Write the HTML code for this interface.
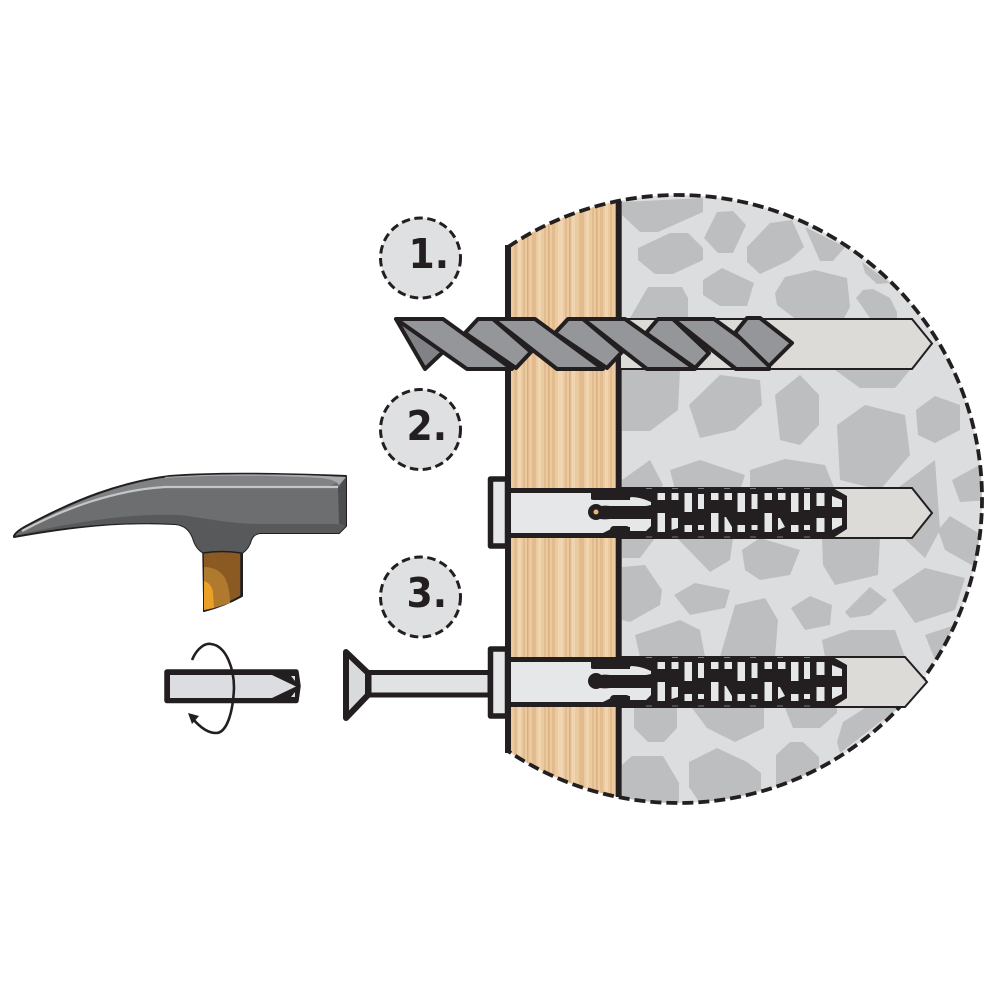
<!DOCTYPE html>
<html><head><meta charset="utf-8"><style>
html,body{margin:0;padding:0;background:#fff}
svg{display:block}
text{font-family:"DejaVu Sans","Liberation Sans",sans-serif;font-weight:bold;font-size:41px;fill:#231f20}
</style></head><body>
<svg width="1000" height="1000" viewBox="0 0 1000 1000" xmlns="http://www.w3.org/2000/svg">
<defs>
<clipPath id="disc"><path d="M508 247A304 304 0 1 1 508 751Z"/></clipPath>
<g id="dowel">
<path d="M590 488H833L847 496V529L833 538H590Z" fill="#231f20"/>
<rect x="511" y="488" width="90" height="50" fill="#231f20"/>
<path d="M511 493H591V499Q591 500 595 500H630V497Q640 497 651 502V505L646 506H610Q596 504 590 513Q596 521 610 519H651V526L646 531H630V527H615L603 533H511Z" fill="#e6e7e9"/>
<rect x="590" y="507" width="64" height="10" fill="#231f20"/>
<circle cx="596" cy="512" r="8" fill="#231f20"/>
<rect x="592" y="489" width="40" height="10" rx="5" fill="#231f20"/>
<rect x="610" y="526" width="20" height="9" rx="4" fill="#231f20"/>
<g fill="#e6e7e9">
<rect x="657.500" y="493" width="7.500" height="7"/><rect x="671.500" y="493" width="7" height="7"/>
<rect x="684.500" y="493" width="7.500" height="19"/><rect x="698" y="494" width="6" height="15"/>
<rect x="711" y="493" width="7.500" height="7"/><rect x="724.500" y="493" width="7.500" height="7"/>
<rect x="737.500" y="493" width="7.500" height="19"/><rect x="751.500" y="494" width="6" height="15"/>
<rect x="764.500" y="493" width="7.500" height="7"/><rect x="778" y="493" width="7.500" height="7"/>
<rect x="791" y="493" width="7.500" height="19"/><rect x="804" y="493" width="6" height="17"/>
<rect x="816.500" y="493" width="8" height="13"/><path d="M832 496L842 500V507H832Z"/>
<rect x="657.500" y="513" width="7.500" height="19"/><path d="M671.500 518H678V528L671.500 530Z"/>
<rect x="684.500" y="525" width="7.500" height="7"/><rect x="698" y="525" width="6" height="5"/>
<rect x="711" y="513" width="7.500" height="19"/><path d="M724.500 517H726L732 527V532H724.500Z"/>
<rect x="737.500" y="525" width="7.500" height="7"/><rect x="751.500" y="525" width="6" height="5"/>
<rect x="764.500" y="513" width="7.500" height="19"/><path d="M778 518H780L785 527L778 530Z"/>
<rect x="791" y="525" width="7.500" height="7"/><rect x="804" y="525" width="6" height="5"/>
<rect x="816.500" y="518" width="8" height="14"/><path d="M832 518H842V525L832 530Z"/>
</g>
<g fill="#77787a">
<rect x="646" y="488" width="6" height="1"/><rect x="672" y="488" width="6" height="1"/><rect x="698" y="488" width="6" height="1"/><rect x="724" y="488" width="6" height="1"/><rect x="750" y="488" width="6" height="1"/><rect x="777" y="488" width="6" height="1"/><rect x="804" y="488" width="6" height="1"/>
<rect x="646" y="536.500" width="6" height="1"/><rect x="672" y="536.500" width="6" height="1"/><rect x="698" y="536.500" width="6" height="1"/><rect x="724" y="536.500" width="6" height="1"/><rect x="750" y="536.500" width="6" height="1"/><rect x="777" y="536.500" width="6" height="1"/><rect x="804" y="536.500" width="6" height="1"/>
</g>
</g>
</defs>

<!-- hammer -->
<path d="M14 536Q16 531 30 524C75 500 120 482 170 476C220 472 290 474 346 476V526L339 533H260Q253 534 251 540Q249 548 242 553V596Q224 606 204 611V553Q196 549 193 538Q188 525 175 524C120 521 70 527 14 537Z" fill="#6d6e70" stroke="#231f20" stroke-width="2" stroke-linejoin="round"/>
<path d="M17 535C70 526 125 521 175 524Q188 525 193 538Q196 549 204 553H242Q249 548 251 540Q253 534 260 533H339L346 526L336 524H260C230 524 205 518 180 515C125 513 70 523 17 535Z" fill="#58595b"/>
<path d="M339 524L346 526V477L338 488Z" fill="#4c4d4f"/>
<path d="M18 533C60 510 110 490 165 486H330L346 477C290 474 220 473 170 477C120 483 70 503 18 533Z" fill="#808285"/>
<path d="M22 531C65 508 115 490 165 487H338" fill="none" stroke="#c4c6c8" stroke-width="2.200"/>
<path d="M165 478C220 474 290 476 320 478Q335 479 339 485L346 477C290 474 220 473 165 477Z" fill="#a7a9ac"/>
<path d="M203 553Q222 550 241 553V596Q224 606 204 611Z" fill="#8a5a22" stroke="#231f20" stroke-width="1.500"/>
<path d="M204 567Q218 567 225 578Q230 588 230 603Q216 608 204 610Z" fill="#b07a2e"/>
<path d="M204 581Q211 583 213 592L214 608L204 610Z" fill="#e9a027"/>

<!-- wood + stone disc -->
<g clip-path="url(#disc)">
<rect x="508" y="190" width="110" height="620" fill="#ecca9f"/>
<g fill="#e2bc8e">
<rect x="514" y="190" width="3" height="620"/><rect x="523" y="190" width="2" height="620"/><rect x="532" y="190" width="4" height="620"/><rect x="544" y="190" width="2" height="620"/><rect x="552" y="190" width="3" height="620"/><rect x="565" y="190" width="2" height="620"/><rect x="579" y="190" width="5" height="620"/><rect x="592" y="190" width="2" height="620"/><rect x="600" y="190" width="3" height="620"/><rect x="610" y="190" width="2" height="620"/>
</g>
<g fill="#f1d5b0">
<rect x="518" y="190" width="3" height="620"/><rect x="538" y="190" width="3" height="620"/><rect x="558" y="190" width="5" height="620"/><rect x="572" y="190" width="3" height="620"/><rect x="586" y="190" width="3" height="620"/><rect x="605" y="190" width="3" height="620"/>
</g>
<g fill="#d9ae80">
<rect x="527" y="190" width="1.500" height="620"/><rect x="548" y="190" width="1.500" height="620"/><rect x="569" y="190" width="1.500" height="620"/><rect x="596" y="190" width="1.500" height="620"/>
</g>
<rect x="618" y="190" width="370" height="620" fill="#dcdddf"/>
<g fill="#bcbec0">
<polygon points="622,202 703,198 703,212 658,232 640,232 622,215"/>
<polygon points="638,248 670,233 688,233 703,248 703,260 673,274 655,274 638,260"/>
<polygon points="717,212 733,211 746,225 733,253 718,253 704,238"/>
<polygon points="747,247 770,223 792,220 804,247 790,260 760,274 747,262"/>
<polygon points="805,227 845,247 833,261 820,261"/>
<polygon points="862,262 890,283 877,284 865,273"/>
<polygon points="703,280 722,268 754,283 747,306 720,306 703,295"/>
<polygon points="775,293 785,277 815,270 847,278 850,307 843,320 797,320 777,305"/>
<polygon points="630,318 648,287 682,287 688,298 688,318"/>
<polygon points="856,298 863,290 873,289 890,298 897,312 897,318 870,318"/>
<polygon points="622,370 680,370 678,410 650,431 622,431"/>
<polygon points="689,405 720,375 760,380 762,405 735,430 700,438"/>
<polygon points="775,395 800,375 819,395 819,425 800,445 780,440"/>
<polygon points="835,370 910,370 895,388 860,388"/>
<polygon points="837,425 865,405 905,415 910,455 880,490 840,480"/>
<polygon points="916,410 935,396 960,405 960,430 935,443 918,435"/>
<polygon points="622,480 650,460 663,485 660,490 622,490"/>
<polygon points="670,470 700,460 745,475 740,490 675,490"/>
<polygon points="750,470 785,459 825,465 835,490 750,490"/>
<polygon points="895,490 935,460 940,530 925,558 895,530"/>
<polygon points="952,480 985,462 990,500 960,502"/>
<polygon points="938,530 950,516 990,540 975,567 945,550"/>
<polygon points="622,538 655,538 640,558 622,558"/>
<polygon points="677,538 733,538 730,560 710,572"/>
<polygon points="742,550 760,538 800,550 790,575 760,580 745,570"/>
<polygon points="822,538 880,538 878,575 835,585 823,565"/>
<polygon points="622,567 645,565 662,590 660,605 630,622 622,620"/>
<polygon points="674,595 695,583 730,590 725,608 690,615"/>
<polygon points="720,657 735,605 765,598 778,620 775,657"/>
<polygon points="635,635 680,620 700,630 705,657 640,657"/>
<polygon points="791,608 810,596 832,605 830,625 805,630"/>
<polygon points="845,612 870,587 887,600 870,615 850,618"/>
<polygon points="892,590 925,568 965,578 955,610 915,623"/>
<polygon points="822,640 850,630 895,630 905,657 825,657"/>
<polygon points="925,635 955,625 935,660"/>
<polygon points="634,708 677,708 677,728 664,742 648,742 634,728"/>
<polygon points="692,708 764,708 764,728 735,742 707,728"/>
<polygon points="785,708 837,708 837,713 820,728 793,728"/>
<polygon points="865,708 898,708 840,753 837,742 843,722"/>
<polygon points="776,755 790,742 803,742 819,757 819,772 776,787"/>
<polygon points="689,762 717,748 747,762 761,773 761,790 720,803 700,803 689,787"/>
<polygon points="622,765 632,756 663,756 679,783 679,803 622,803"/>
</g>
</g>
<path d="M508 245V753" stroke="#231f20" stroke-width="6" fill="none"/>
<path d="M618.700 201V797" stroke="#231f20" stroke-width="6" fill="none"/>
<path d="M508 247A304 304 0 1 1 508 751" fill="none" stroke="#231f20" stroke-width="3.800" stroke-dasharray="11 5"/>

<!-- numbers -->
<g fill="#dfe0e2" stroke="#231f20" stroke-width="3" stroke-dasharray="8.500 4.500">
<circle cx="420.500" cy="258" r="40"/><circle cx="420.500" cy="429.500" r="40"/><circle cx="420.500" cy="597" r="40"/>
</g>
<text transform="translate(408.500,268) scale(.92,1)">1.</text>
<text transform="translate(406.500,440) scale(.92,1)">2.</text>
<text transform="translate(406.500,607) scale(.92,1)">3.</text>

<!-- hole 1 & drill -->
<path d="M620 319H912L932 343.500L912 369H620Z" fill="#dcdbd8" stroke="#231f20" stroke-width="2"/>
<g fill="#949699" stroke="#231f20" stroke-width="4" stroke-linejoin="round">
<polygon points="396,319 443,345 443,352 425,369" fill="#808285"/>
<polygon points="396,319 443,319 512,369 467,369"/>
<polygon points="465,333 478,319 493,319 531,352 516,368"/>
<polygon points="493,319 535,319 603,369 557,369"/>
<polygon points="555,333 568,319 583,319 622,352 607,368"/>
<polygon points="583,319 625,319 695,369 647,369"/>
<polygon points="646,333 658,319 673,319 709,353 695,368"/>
<polygon points="673,319 714,319 769,359 769,369 736,369"/>
<polygon points="735,333 747,318 760,318 792,343 769,366"/>
</g>

<!-- hole 2 -->
<path d="M620 488H912L932 513L912 538H620Z" fill="#dcdbd8" stroke="#231f20" stroke-width="2"/>
<use href="#dowel"/>
<circle cx="596" cy="512" r="2.500" fill="#eab676"/>
<rect x="490.500" y="479" width="17" height="67" fill="#e6e7e9" stroke="#231f20" stroke-width="5.500" stroke-linejoin="round"/>
<rect x="505" y="488" width="6" height="50" fill="#231f20"/>

<!-- hole 3 -->
<path d="M620 657H905L927 682L905 707H620Z" fill="#dcdbd8" stroke="#231f20" stroke-width="2"/>
<use href="#dowel" transform="translate(0,169)"/>
<rect x="490.500" y="649" width="17" height="67" fill="#e6e7e9" stroke="#231f20" stroke-width="5.500" stroke-linejoin="round"/>
<rect x="505" y="657" width="6" height="50" fill="#231f20"/>

<!-- nail -->
<rect x="369" y="672.500" width="121" height="22.500" fill="#e1e2e4" stroke="#231f20" stroke-width="5"/>
<path d="M346 652L368 673V695L346 718Z" fill="#d9dadc" stroke="#231f20" stroke-width="6" stroke-linejoin="round"/>

<!-- small bit -->
<path d="M167 672H296L298 686L296 700.500H167Z" fill="#231f20" stroke="#231f20" stroke-width="5.500" stroke-linejoin="round"/>
<path d="M170 675H272L296 686.500L272 698H170Z" fill="#dcdde0"/>
<path d="M291 676L295 676L295 681Z M291 697L295 697L295 692Z" fill="#dcdde0"/>
<path d="M192 660C197 648 205 643 211 644C227 646 234 670 234 688C233 712 227 733 216 733C207 733 199 726 193 719" fill="none" stroke="#231f20" stroke-width="2.600"/>
<path d="M188 713L199 716L192 724Z" fill="#231f20"/>
</svg>
</body></html>
